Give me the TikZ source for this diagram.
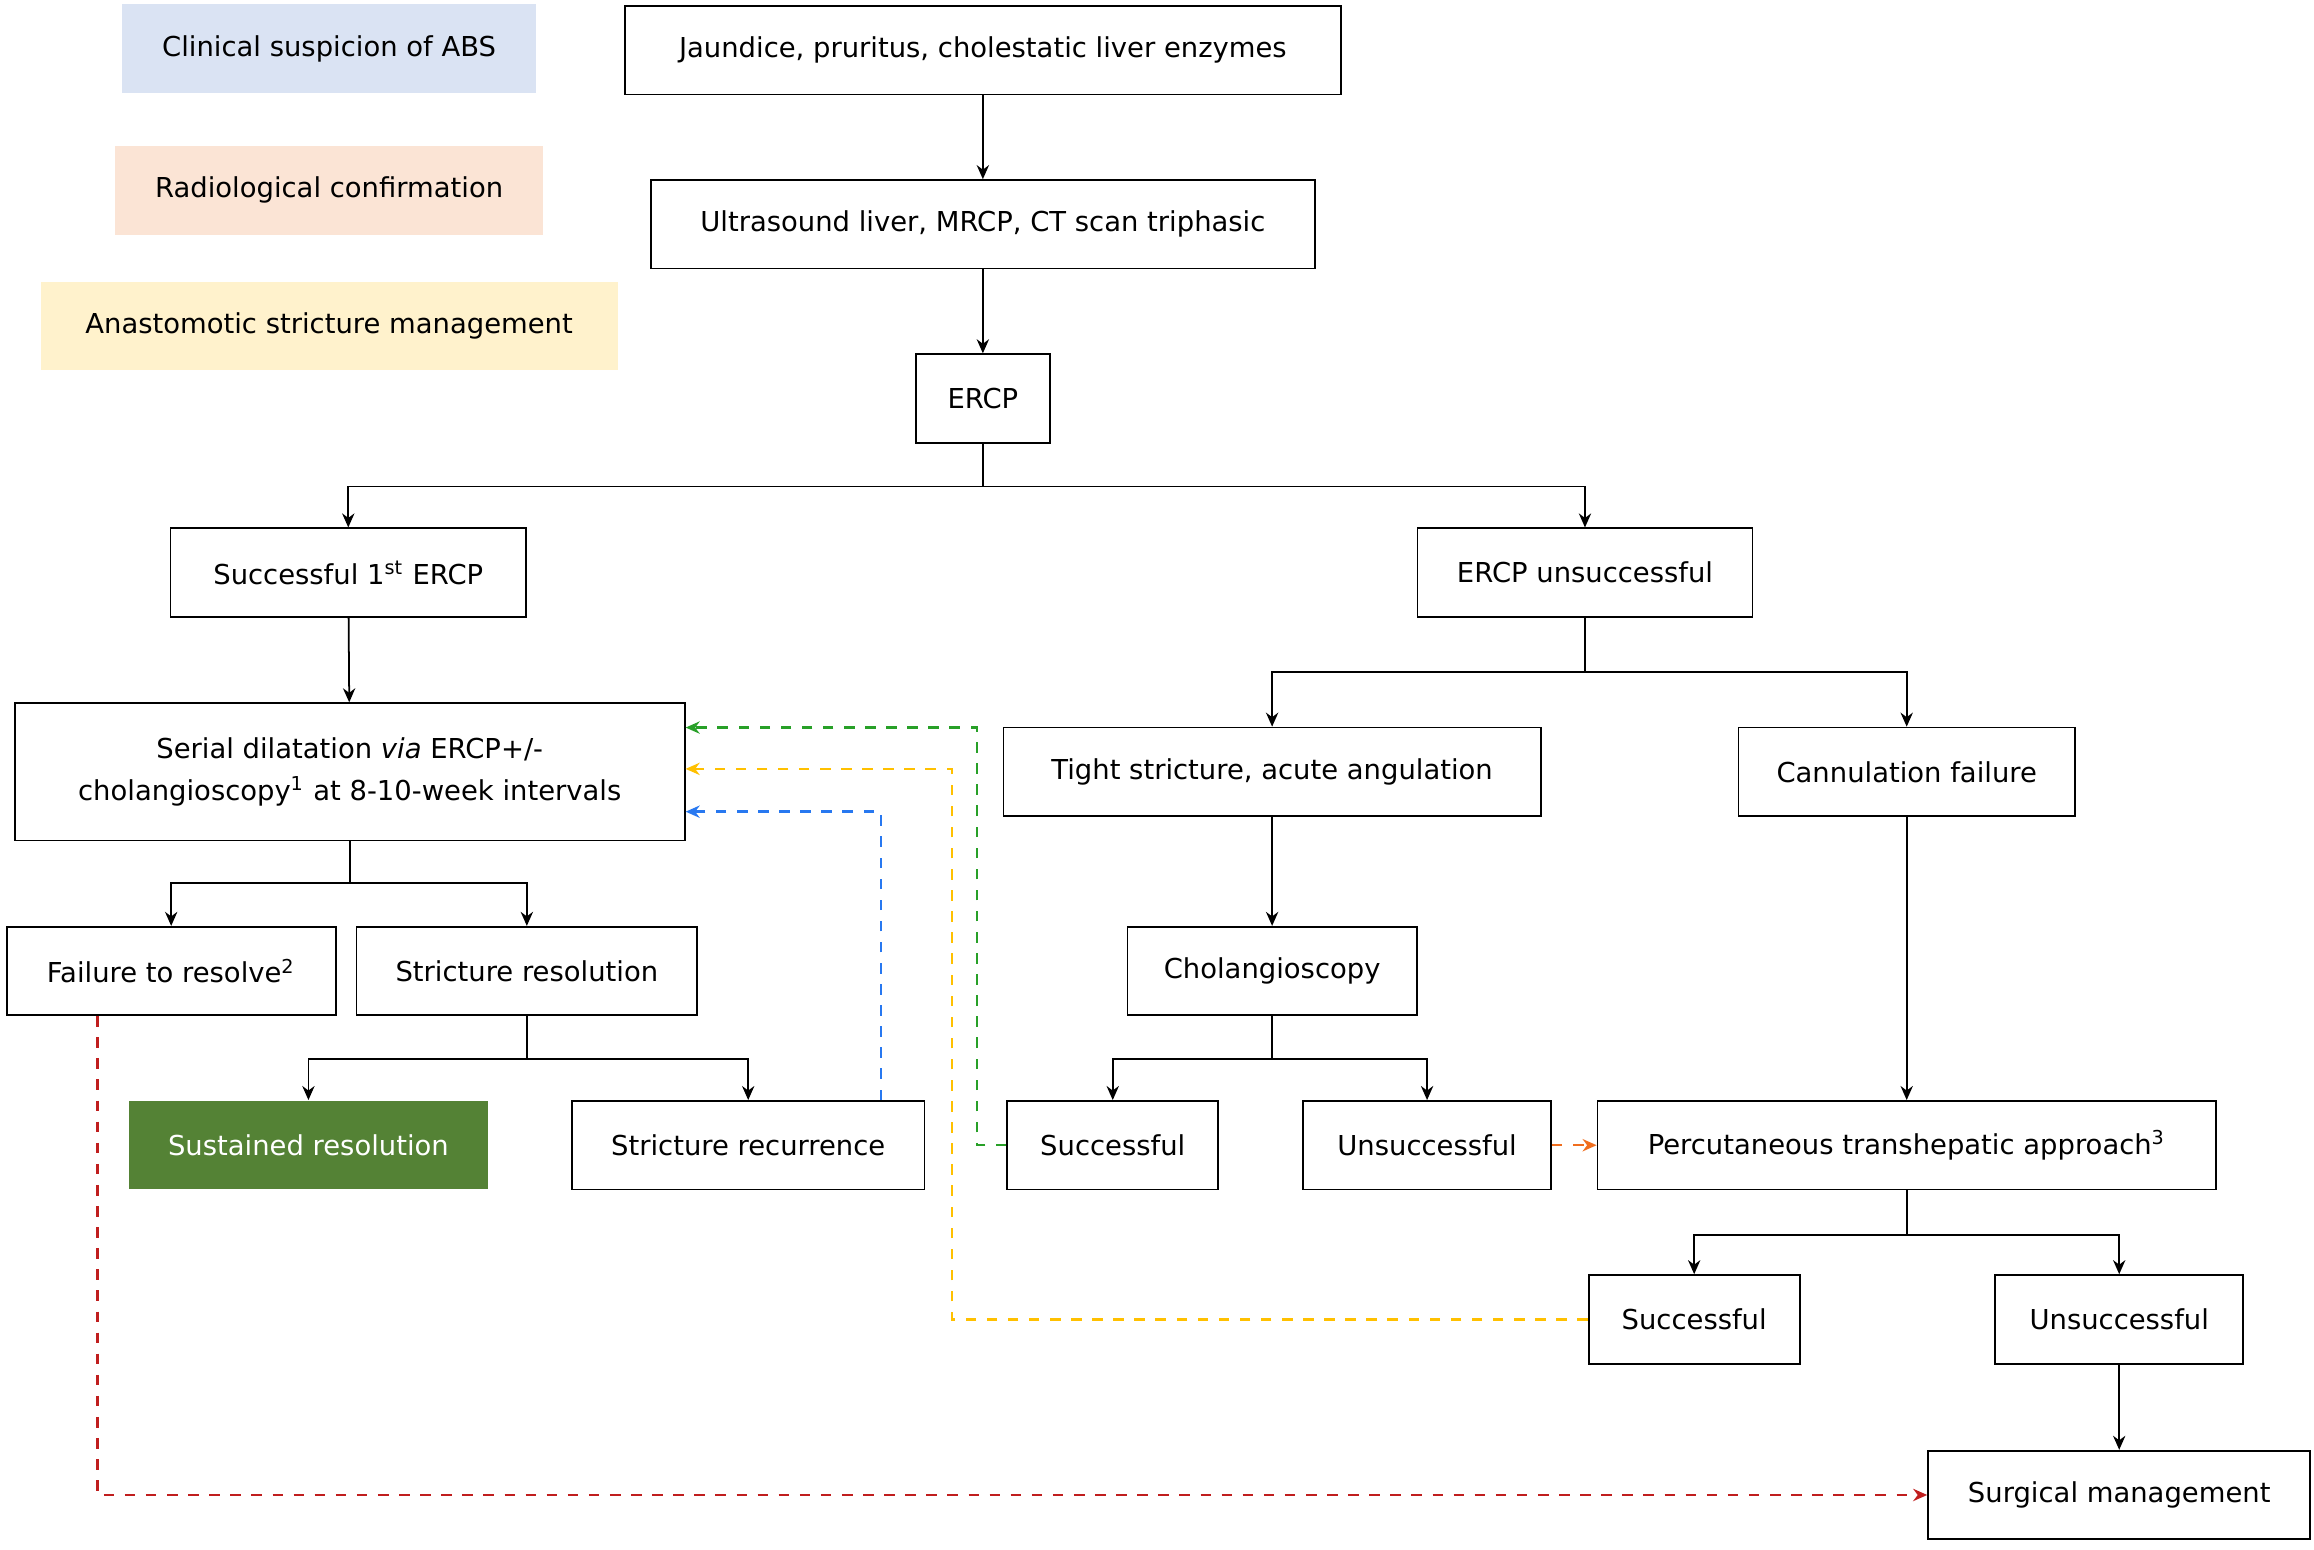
\documentclass[tikz,border=0pt]{standalone}
\usepackage{fontspec}
\setmainfont{DejaVu Sans}
\usetikzlibrary{arrows.meta}
\definecolor{lgblue}{RGB}{218,227,243}
\definecolor{lgorange}{RGB}{251,228,213}
\definecolor{lgyellow}{RGB}{255,242,204}
\definecolor{sgreen}{RGB}{84,130,53}
\definecolor{dgreen}{RGB}{40,160,40}
\definecolor{dyellow}{RGB}{255,192,0}
\definecolor{dblue}{RGB}{40,120,240}
\definecolor{dred}{RGB}{192,30,30}
\definecolor{dorange}{RGB}{240,110,30}
\tikzset{
  box/.style={draw, line width=0.5pt, minimum height=60*0.014758cm, inner sep=0pt, align=center},
  leg/.style={box, draw=none},
  arr/.style={-{Stealth[length=4pt,width=3.5pt]}, line width=0.5pt},
  backarr/.style={arr, dashed, line width=0.7pt}
}
\begin{document}
\begin{tikzpicture}[x=0.014758cm, y=-0.014758cm, font=\fontsize{7.8}{10}\selectfont]
    \useasboundingbox (0,0) rectangle (1568,1050);

    % Legend
    \node[leg, fill=lgblue, minimum width=280*0.014758cm] (legA) at (223,33) {Clinical suspicion of ABS};
    \node[leg, fill=lgorange, minimum width=290*0.014758cm] (legB) at (223,129) {Radiological confirmation};
    \node[leg, fill=lgyellow, minimum width=391*0.014758cm] (legC) at (223,221) {Anastomotic stricture management};

    % Boxes
    \node[box, minimum width=485*0.014758cm] (jaund) at (666,34) {Jaundice, pruritus, cholestatic liver enzymes};
    \node[box, minimum width=450*0.014758cm] (us) at (666,152) {Ultrasound liver, MRCP, CT scan triphasic};
    \node[box, minimum width=91*0.014758cm] (ercp) at (666,270) {ERCP};
    \node[box, minimum width=241*0.014758cm] (succ1) at (236,388) {Successful 1\textsuperscript{st} ERCP};
    \node[box, minimum width=227*0.014758cm] (unsucc) at (1074,388) {ERCP unsuccessful};
    \node[box, minimum width=454*0.014758cm, minimum height=93*0.014758cm] (serial) at (237,523)
        {Serial dilatation \textit{via} ERCP+/-\\[2pt] cholangioscopy\textsuperscript{1} at 8-10-week intervals};
    \node[box, minimum width=364*0.014758cm] (tight) at (862,523) {Tight stricture, acute angulation};
    \node[box, minimum width=228*0.014758cm] (cann) at (1292,523) {Cannulation failure};
    \node[box, minimum width=223*0.014758cm] (fail) at (116,658) {Failure to resolve\textsuperscript{2}};
    \node[box, minimum width=231*0.014758cm] (strres) at (357,658) {Stricture resolution};
    \node[box, minimum width=196*0.014758cm] (chol) at (862,658) {Cholangioscopy};
    \node[box, draw=none, fill=sgreen, text=white, minimum width=243*0.014758cm] (sust) at (209,776) {Sustained resolution};
    \node[box, minimum width=239*0.014758cm] (strrec) at (507,776) {Stricture recurrence};
    \node[box, minimum width=143*0.014758cm] (succA) at (754,776) {Successful};
    \node[box, minimum width=168*0.014758cm] (unsA) at (967,776) {Unsuccessful};
    \node[box, minimum width=419*0.014758cm] (perc) at (1292,776) {Percutaneous transhepatic approach\textsuperscript{3}};
    \node[box, minimum width=143*0.014758cm] (succB) at (1148,894) {Successful};
    \node[box, minimum width=168*0.014758cm] (unsB) at (1436,894) {Unsuccessful};
    \node[box, minimum width=259*0.014758cm] (surg) at (1436,1013) {Surgical management};

    % Connectors
    \draw[arr] (jaund) -- (us);
    \draw[arr] (us) -- (ercp);
    \draw[arr] (ercp.south) -- ++(0,29) -| (succ1.north);
    \draw[arr] (ercp.south) -- ++(0,29) -| (unsucc.north);
    \draw[arr] (succ1) -- (serial);
    \draw[arr] (unsucc.south) -- ++(0,37) -| (tight.north);
    \draw[arr] (unsucc.south) -- ++(0,37) -| (cann.north);
    \draw[arr] (serial.south) -- ++(0,28) -| (fail.north);
    \draw[arr] (serial.south) -- ++(0,28) -| (strres.north);
    \draw[arr] (strres.south) -- ++(0,29) -| (sust.north);
    \draw[arr] (strres.south) -- ++(0,29) -| (strrec.north);
    \draw[arr] (tight) -- (chol);
    \draw[arr] (chol.south) -- ++(0,29) -| (succA.north);
    \draw[arr] (chol.south) -- ++(0,29) -| (unsA.north);
    \draw[arr] (cann) -- (perc);
    \draw[arr] (perc.south) -- ++(0,30) -| (succB.north);
    \draw[arr] (perc.south) -- ++(0,30) -| (unsB.north);
    \draw[arr] (unsB) -- (surg);

    % Dashed feedback
    \draw[backarr, dgreen] (succA.west) -- (662,776) -- (662,493) -- (serial.east |- 0,493);
    \draw[backarr, dyellow] (succB.west) -- (645,894) -- (645,521) -- (serial.east |- 0,521);
    \draw[backarr, dblue] (strrec.north -| 597,0) -- (597,550) -- (serial.east |- 0,550);
    \draw[backarr, dred] (fail.south -| 66,0) -- (66,1013) -- (surg.west);
    \draw[backarr, dorange] (unsA.east) -- (perc.west);
\end{tikzpicture}
\end{document}
